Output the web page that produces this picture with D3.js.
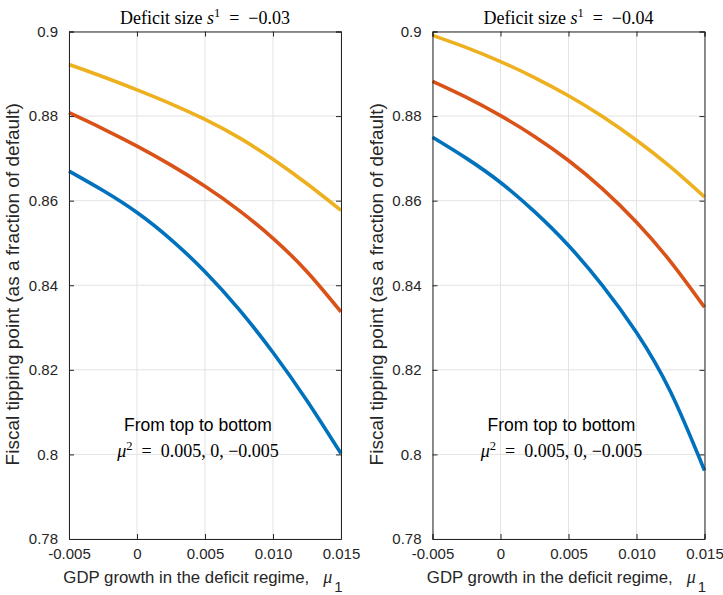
<!DOCTYPE html>
<html><head><meta charset="utf-8">
<script src="https://cdn.jsdelivr.net/npm/d3@7"></script>
<style>
html,body{margin:0;padding:0;background:#fff;}
svg{display:block;}
</style></head>
<body>
<svg id="chart" width="723" height="595"></svg>
<script>
// ---- data ----
const muValues = [-0.005, -0.0025, 0, 0.0025, 0.005, 0.0075, 0.010, 0.0125, 0.015];
const xTickValues = [-0.005, 0, 0.005, 0.010, 0.015];
const xTickLabels = ["-0.005", "0", "0.005", "0.010", "0.015"];
const yTickValues = [0.78, 0.80, 0.82, 0.84, 0.86, 0.88, 0.90];
const yTickLabels = ["0.78", "0.8", "0.82", "0.84", "0.86", "0.88", "0.9"];
const panelTitles = ["\u22120.03", "\u22120.04"];
const seriesNames = ["mu2 = 0.005", "mu2 = 0", "mu2 = -0.005"];
// left panel (s1 = -0.03)
const leftHigh = [0.8922, 0.8893, 0.8862, 0.8829, 0.8792, 0.8749, 0.8698, 0.8640, 0.8577];
const leftMid  = [0.8808, 0.8770, 0.8729, 0.8684, 0.8634, 0.8577, 0.8511, 0.8432, 0.8337];
const leftLow  = [0.8670, 0.8624, 0.8572, 0.8508, 0.8432, 0.8343, 0.8241, 0.8127, 0.8002];
// right panel (s1 = -0.04)
const rightHigh = [0.8991, 0.8962, 0.8929, 0.8891, 0.8848, 0.8799, 0.8743, 0.8680, 0.8609];
const rightMid  = [0.8882, 0.8844, 0.8801, 0.8752, 0.8695, 0.8628, 0.8549, 0.8456, 0.8348];
const rightLow  = [0.8750, 0.8700, 0.8643, 0.8574, 0.8494, 0.8399, 0.8288, 0.8148, 0.7962];

const colors = ["#EDB120", "#D95319", "#0072BD"];
const SANS = "'Liberation Sans', Arial, Helvetica, sans-serif";
const SERIF = "'Liberation Serif', 'Times New Roman', serif";

const svg = d3.select("#chart");
const panels = [
  {x0: 69, x1: 341, title: panelTitles[0], series: [leftHigh, leftMid, leftLow]},
  {x0: 432.5, x1: 704.5, title: panelTitles[1], series: [rightHigh, rightMid, rightLow]}
];
const yTop = 31.5, yBot = 539;

panels.forEach(p => {
  const x = d3.scaleLinear().domain([-0.005, 0.015]).range([p.x0, p.x1]);
  const y = d3.scaleLinear().domain([0.78, 0.90]).range([yBot, yTop]);
  const g = svg.append("g");
  const cx = (p.x0 + p.x1) / 2;

  // grid
  g.append("g").selectAll("line").data(xTickValues).join("line")
    .attr("x1", d => x(d)).attr("x2", d => x(d)).attr("y1", yTop).attr("y2", yBot)
    .attr("stroke", "#e3e3e3").attr("stroke-width", 1);
  g.append("g").selectAll("line").data(yTickValues).join("line")
    .attr("y1", d => y(d)).attr("y2", d => y(d)).attr("x1", p.x0).attr("x2", p.x1)
    .attr("stroke", "#e3e3e3").attr("stroke-width", 1);

  // lines
  const line = d3.line().x((d, i) => x(muValues[i])).y(d => y(d)).curve(d3.curveNatural);
  p.series.forEach((s, k) => {
    g.append("path").datum(s).attr("d", line).attr("fill", "none")
      .attr("stroke", colors[k]).attr("stroke-width", 3.6).attr("stroke-linecap", "butt");
  });

  // axes
  const axB = d3.axisBottom(x).tickValues(xTickValues).tickFormat((d, i) => xTickLabels[i]).tickSize(-5).tickPadding(9);
  const axT = d3.axisTop(x).tickValues(xTickValues).tickFormat("").tickSize(-5);
  const axL = d3.axisLeft(y).tickValues(yTickValues).tickFormat((d, i) => yTickLabels[i]).tickSize(-5).tickPadding(11);
  const axR = d3.axisRight(y).tickValues(yTickValues).tickFormat("").tickSize(-5);
  [[axB, `translate(0,${yBot})`], [axT, `translate(0,${yTop})`], [axL, `translate(${p.x0},0)`], [axR, `translate(${p.x1},0)`]].forEach(([ax, tr]) => {
    const a = g.append("g").attr("transform", tr).call(ax);
    a.select(".domain").attr("stroke", "#262626").attr("stroke-width", 1);
    a.selectAll(".tick line").attr("stroke", "#262626");
    a.selectAll("text").attr("font-family", SANS).attr("font-size", "15px").attr("fill", "#262626");
  });

  // title
  const t = g.append("text").attr("x", cx).attr("y", 24).attr("text-anchor", "middle")
    .attr("font-family", SERIF).attr("font-size", "18px").attr("fill", "#000");
  t.append("tspan").text("Deficit size ");
  t.append("tspan").attr("font-style", "italic").text("s");
  t.append("tspan").attr("font-size", "12.5px").attr("dy", -7).text("1");
  t.append("tspan").attr("dy", 7).text("\u2002=\u2002" + p.title);

  // x label
  const xl = g.append("text").attr("x", cx - 2).attr("y", 583).attr("text-anchor", "middle")
    .attr("font-family", SANS).attr("font-size", "16.8px").attr("fill", "#262626");
  xl.append("tspan").text("GDP growth in the deficit regime,\u00a0\u00a0\u00a0");
  xl.append("tspan").attr("font-family", SERIF).attr("font-style", "italic").attr("font-size", "18px").text("\u03bc");
  xl.append("tspan").attr("dx", 2).attr("dy", 9).attr("font-size", "15px").text("1");

  // y label
  g.append("text").attr("transform", `translate(${p.x0 - 50},${(yTop + yBot) / 2 - 1}) rotate(-90)`)
    .attr("text-anchor", "middle").attr("font-family", SANS).attr("font-size", "19px").attr("fill", "#262626")
    .text("Fiscal tipping point (as a fraction of default)");

  // annotation
  g.append("text").attr("x", cx - 7).attr("y", 431).attr("text-anchor", "middle")
    .attr("font-family", SANS).attr("font-size", "17.5px").attr("fill", "#000")
    .text("From top to bottom");
  const m = g.append("text").attr("x", cx - 7).attr("y", 457).attr("text-anchor", "middle")
    .attr("font-family", SERIF).attr("font-size", "18px").attr("fill", "#000");
  m.append("tspan").attr("font-style", "italic").text("\u03bc");
  m.append("tspan").attr("font-size", "12.5px").attr("dy", -7).text("2");
  m.append("tspan").attr("dy", 7).text("\u2002=\u20020.005, 0, \u22120.005");
});
</script>
</body></html>
